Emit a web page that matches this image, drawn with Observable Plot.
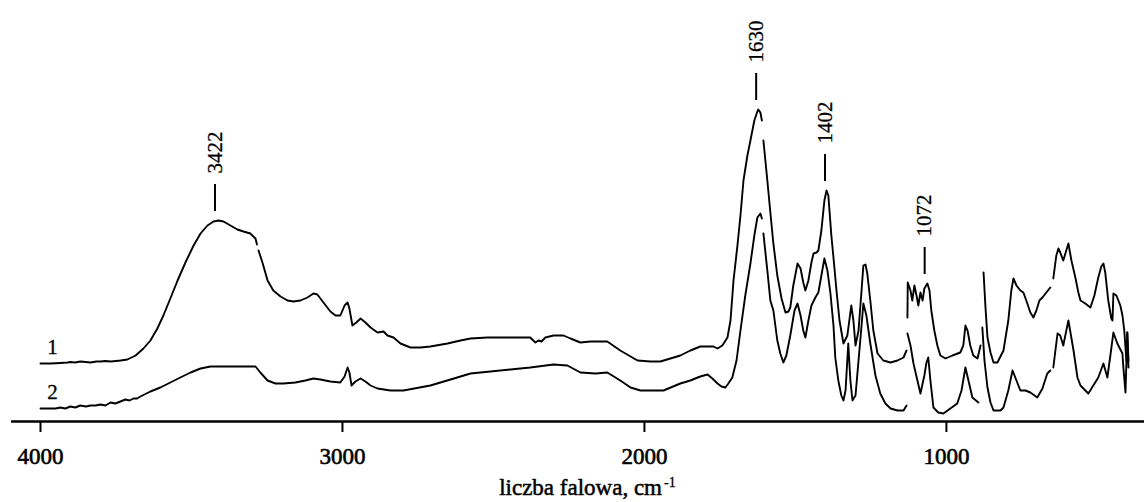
<!DOCTYPE html>
<html>
<head>
<meta charset="utf-8">
<script src="https://cdn.jsdelivr.net/npm/d3@7"></script>
<script src="https://cdn.jsdelivr.net/npm/@observablehq/plot@0.6"></script>
<style>
html, body { margin: 0; padding: 0; background: #fff; }
svg { display: block; }
</style>
</head>
<body>
<div id="chart"></div>
<script>
// Spectrum 1 (upper trace): wavenumber (cm^-1) and absorbance (arbitrary units); null = break in trace
const wn1 = [4000,3967,3934,3910,3901,3885,3868,3850,3834,3815,3801,3785,3768,3750,3735,3712,3685,3659,3636,3613,3593,3570,3546,3520,3493,3470,3447,3427,3411,3394,3371,3348,3328,3305,3288,3283,3281,3278,3265,3248,3229,3205,3182,3162,3139,3116,3096,3083,3063,3040,3023,3007,2993,2983,2977,2967,2954,2940,2924,2907,2884,2864,2851,2831,2808,2775,2742,2709,2652,2609,2576,2520,2444,2378,2368,2361,2351,2341,2328,2301,2268,2245,2212,2179,2123,2080,2023,1980,1947,1914,1881,1848,1815,1772,1758,1742,1725,1715,1705,1692,1682,1672,1659,1649,1636,1626,1623,1616,1611,1608,1606,1593,1583,1573,1560,1546,1533,1523,1517,1507,1493,1483,1474,1467,1457,1447,1440,1430,1424,1414,1404,1397,1391,1381,1374,1364,1354,1341,1328,1315,1308,1301,1291,1281,1275,1268,1262,1252,1242,1228,1209,1185,1162,1142,1132,1130,1129,1128,1119,1113,1106,1099,1093,1086,1079,1073,1063,1056,1050,1040,1030,1020,1003,980,954,944,937,930,921,911,897,887,882,877,871,864,854,844,831,811,795,785,778,768,755,745,732,722,712,702,692,682,669,656,651,646,636,629,623,613,603,596,586,573,563,556,540,523,510,497,487,480,474,464,454,450,447,437,424,417,411,404,401,397];
const abs1 = [0.58,0.58,0.585,0.59,0.595,0.59,0.60,0.595,0.59,0.60,0.60,0.605,0.60,0.605,0.61,0.62,0.66,0.73,0.81,0.93,1.06,1.23,1.41,1.59,1.76,1.88,1.96,2.00,2.01,2.00,1.96,1.92,1.90,1.88,1.83,1.77,null,1.71,1.59,1.41,1.31,1.25,1.21,1.20,1.21,1.24,1.28,1.27,1.19,1.10,1.06,1.06,1.16,1.19,1.13,0.96,0.99,1.03,0.99,0.94,0.89,0.90,0.86,0.84,0.78,0.74,0.74,0.75,0.78,0.81,0.83,0.84,0.84,0.84,0.81,0.79,0.81,0.80,0.84,0.86,0.86,0.83,0.79,0.80,0.80,0.71,0.61,0.60,0.60,0.63,0.66,0.71,0.75,0.75,0.73,0.76,0.84,1.01,1.41,1.76,2.06,2.41,2.66,2.81,3.01,3.10,3.12,3.09,3.01,null,2.81,2.41,2.09,1.78,1.46,1.23,1.09,1.10,1.14,1.36,1.58,1.53,1.39,1.31,1.41,1.59,1.68,1.69,1.71,1.91,2.21,2.31,2.26,1.86,1.64,1.31,1.01,0.78,0.86,1.16,1.01,0.76,0.91,1.31,1.56,1.57,1.48,1.21,0.91,0.68,0.61,0.59,0.61,0.64,0.71,null,1.04,1.39,1.31,1.21,1.36,1.26,1.16,1.29,1.21,1.33,1.38,1.31,1.11,0.91,0.76,0.66,0.63,0.66,0.69,0.76,0.96,0.91,0.76,0.66,0.63,0.76,null,1.49,1.16,0.84,0.69,0.59,0.59,0.71,1.01,1.31,1.43,1.36,1.31,1.29,1.18,1.09,1.04,1.11,1.21,1.24,1.29,1.34,null,1.43,1.66,1.73,1.69,1.61,1.71,1.78,1.61,1.44,1.29,1.21,1.18,1.14,1.26,1.44,1.55,1.58,1.49,1.21,1.03,1.01,1.28,1.26,1.16,1.06,0.91,0.61,0.89,0.61];

// Spectrum 2 (lower trace)
const wn2 = [4000,3967,3950,3934,3918,3901,3885,3868,3850,3834,3818,3801,3785,3768,3752,3735,3719,3705,3692,3680,3669,3636,3603,3570,3537,3503,3470,3437,3371,3305,3288,3272,3248,3222,3195,3156,3123,3096,3073,3040,3007,2993,2983,2977,2970,2957,2940,2924,2907,2884,2841,2798,2709,2642,2576,2510,2444,2378,2301,2255,2212,2162,2123,2080,2046,2013,1937,1881,1848,1815,1791,1775,1758,1745,1732,1722,1709,1695,1682,1666,1649,1636,1626,1616,1611,1608,1606,1593,1583,1573,1560,1550,1540,1530,1517,1503,1493,1483,1474,1467,1457,1447,1434,1424,1414,1404,1394,1384,1374,1368,1358,1348,1341,1334,1325,1318,1311,1301,1291,1281,1275,1265,1252,1235,1219,1202,1185,1162,1142,1132,1130,1129,1119,1109,1096,1086,1073,1066,1060,1053,1043,1027,1010,987,964,950,937,927,914,894,888,881,874,864,854,844,821,811,795,781,768,755,738,722,699,682,666,656,651,646,632,623,613,596,579,566,556,530,497,480,467,457,447,434,417,414,407,401,397];
const abs2 = [0.13,0.13,0.13,0.14,0.13,0.15,0.14,0.16,0.15,0.16,0.16,0.17,0.16,0.19,0.18,0.20,0.22,0.21,0.23,0.23,0.25,0.30,0.34,0.39,0.44,0.49,0.53,0.55,0.55,0.55,0.55,0.49,0.41,0.38,0.38,0.39,0.41,0.43,0.42,0.40,0.39,0.45,0.54,0.49,0.36,0.40,0.43,0.40,0.36,0.33,0.31,0.31,0.36,0.42,0.48,0.50,0.52,0.54,0.57,0.56,0.49,0.48,0.49,0.41,0.34,0.31,0.31,0.38,0.41,0.45,0.47,0.43,0.38,0.35,0.34,0.38,0.44,0.61,0.91,1.26,1.58,1.86,2.04,2.08,2.03,null,1.88,1.51,1.21,1.11,0.81,0.68,0.59,0.66,0.86,1.11,1.18,1.06,0.91,0.84,1.01,1.16,1.24,1.29,1.46,1.63,1.51,1.28,0.96,0.64,0.41,0.26,0.21,0.31,0.78,0.41,0.21,0.26,0.61,0.96,1.18,1.06,0.78,0.46,0.28,0.18,0.13,0.11,0.11,0.16,null,0.88,0.76,0.58,0.41,0.28,0.46,0.59,0.64,0.41,0.14,0.09,0.08,0.13,0.18,0.31,0.54,0.41,0.24,0.19,null,0.94,0.61,0.34,0.19,0.11,0.11,0.14,0.31,0.51,0.41,0.31,0.31,0.29,0.24,0.33,0.48,0.51,null,0.54,0.88,0.86,0.76,1.01,0.71,0.44,0.36,0.28,0.44,0.58,0.44,0.66,0.89,0.78,0.68,0.54,0.29,0.89,0.54];

const tickValues = [4000, 3000, 2000, 1000];
const seriesLabels = ["1", "2"];
const peakWn = [3422, 1630, 1402, 1072];
const peakLabels = ["3422", "1630", "1402", "1072"];
const xTitle = "liczba falowa, cm";
const xTitleSup = "-1";

const serif = "'Liberation Serif','Times New Roman',serif";

const s1 = wn1.map((w, i) => ({wn: w, a: abs1[i]}));
const s2 = wn2.map((w, i) => ({wn: w, a: abs2[i]}));

const peaks = peakWn.map((w, i) => {
  const near = s1.filter(d => d.a != null && Math.abs(d.wn - w) <= 15);
  return {wn: w, label: peakLabels[i], top: d3.max(near, d => d.a)};
});

const starts = [s1[0], s2[0]].map((d, i) => ({...d, label: seriesLabels[i]}));

const chart = Plot.plot({
  width: 1144,
  height: 502,
  marginLeft: 11,
  marginRight: 0,
  marginTop: 0,
  marginBottom: 81,
  style: {fontFamily: serif, background: "#fff", color: "#000"},
  x: {domain: [4096, 344], axis: null},
  y: {domain: [0, 4.21], axis: null},
  marks: [
    Plot.ruleY([0], {stroke: "#000", strokeWidth: 2.5}),
    // x-axis ticks (downward) and their labels
    Plot.ruleX(tickValues, {x: d => d, y1: 0, y2: -0.11, stroke: "#000", strokeWidth: 2}),
    Plot.text(tickValues, {
      x: d => d, y: 0, text: d => String(d), dy: 35, lineAnchor: "middle",
      fontSize: 23, fill: "#000", stroke: "#000", strokeWidth: 0.6
    }),
    Plot.line(s1, {x: "wn", y: "a", stroke: "#000", strokeWidth: 1.9}),
    Plot.line(s2, {x: "wn", y: "a", stroke: "#000", strokeWidth: 1.9}),
    Plot.text(starts, {x: "wn", y: "a", text: "label", dx: 12, dy: -16, fontSize: 21, fill: "#000", stroke: "#000", strokeWidth: 0.3}),
    Plot.ruleX(peaks, {x: "wn", y1: d => d.top + 0.09, y2: d => d.top + 0.36, stroke: "#000", strokeWidth: 2}),
    Plot.text(peaks, {x: "wn", y: "top", text: "label", rotate: -90, textAnchor: "start", lineAnchor: "middle", dy: -47, fontSize: 21, fill: "#000", stroke: "#000", strokeWidth: 0.3}),
    Plot.text([xTitle], {frameAnchor: "bottom", text: d => d, textAnchor: "end", lineAnchor: "middle", dx: 84, dy: 66, fontSize: 23, fill: "#000", stroke: "#000", strokeWidth: 0.5}),
    Plot.text([xTitleSup], {frameAnchor: "bottom", text: d => d, textAnchor: "start", lineAnchor: "middle", dx: 86, dy: 61, fontSize: 14, fill: "#000", stroke: "#000", strokeWidth: 0.3})
  ]
});

document.getElementById("chart").appendChild(chart);
</script>
</body>
</html>
